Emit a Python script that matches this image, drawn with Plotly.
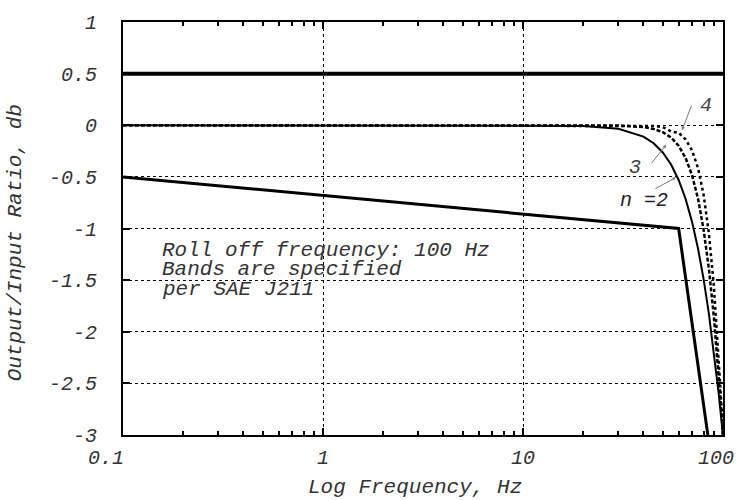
import math
import plotly.graph_objects as go

# Butterworth low-pass response (roll-off at 100 Hz), dB vs frequency
freq = [0.1, 1, 10, 20, 30, 40, 45, 50, 55, 60, 65, 70, 75, 80, 85, 90, 95, 98, 100]
gain_n2 = [0.0, 0.0, -0.0004, -0.0069, -0.0350, -0.1098, -0.1745, -0.2633, -0.3803,
           -0.5300, -0.7133, -0.9345, -1.1938, -1.4909, -1.8242, -2.1908, -2.5876,
           -2.8384, -3.0103]
gain_n3 = [0.0, 0.0, 0.0, -0.0003, -0.0032, -0.0178, -0.0359, -0.0673, -0.1186,
           -0.1981, -0.3158, -0.4830, -0.7114, -1.0111, -1.3898, -1.8510, -2.3932,
           -2.7550, -3.0103]
gain_n4 = [0.0, 0.0, 0.0, 0.0, -0.0003, -0.0029, -0.0073, -0.0169, -0.0601,
           -0.0723, -0.1362, -0.2435, -0.4144, -0.6736, -1.0465, -1.5548, -2.2100,
           -2.6736, -3.0103]

# SAE J211 tolerance bands
upper_freq = [0.1, 100]
upper_db = [0.5, 0.5]
lower_freq = [0.1, 60, 84]
lower_db = [-0.5, -1.0, -3.0]

x_tickvals = [0.1, 1, 10, 100]
x_ticktext = ["0.1", "1", "10", "100"]
x_minor = [0.2, 0.3, 0.4, 0.5, 0.6, 0.7, 0.8, 0.9,
           2, 3, 4, 5, 6, 7, 8, 9,
           20, 30, 40, 50, 60, 70, 80, 90]
y_tickvals = [1, 0.5, 0, -0.5, -1, -1.5, -2, -2.5, -3]
y_ticktext = ["1", "0.5", "0", "-0.5", "-1", "-1.5", "-2", "-2.5", "-3"]

note_lines = ["Roll off frequency: 100 Hz", "Bands are specified", "per SAE J211"]
note_y = [-1.21, -1.40, -1.59]

FONT = "Liberation Mono"


def ital(size, color="#222"):
    return dict(family=FONT, size=size, color=color, style="italic")


fig = go.Figure()
fig.add_trace(go.Scatter(x=upper_freq, y=upper_db, mode="lines",
                         line=dict(color="black", width=4)))
fig.add_trace(go.Scatter(x=lower_freq, y=lower_db, mode="lines",
                         line=dict(color="black", width=3)))
fig.add_trace(go.Scatter(x=freq, y=gain_n2, mode="lines",
                         line=dict(color="black", width=2)))
fig.add_trace(go.Scatter(x=freq, y=gain_n3, mode="lines",
                         line=dict(color="black", width=2.5, dash="4px,2px")))
fig.add_trace(go.Scatter(x=freq, y=gain_n4, mode="lines",
                         line=dict(color="black", width=2.5, dash="dot")))

axis_common = dict(
    showline=True, linecolor="black", linewidth=2, mirror="ticks",
    ticks="inside", ticklen=7, tickwidth=2, tickcolor="black",
    showgrid=True, gridcolor="black", gridwidth=1, griddash="dot",
    zeroline=False, tickfont=ital(20, "#333"),
)

# x tick labels are placed as annotations so the end labels stay inside the page
fig.update_xaxes(type="log", range=[-1, 2], tickvals=x_tickvals,
                 ticktext=[""] * len(x_tickvals),
                 minor=dict(tickvals=x_minor, ticks="inside", ticklen=4,
                            tickwidth=1.5, tickcolor="black", showgrid=False),
                 **axis_common)
fig.update_yaxes(range=[-3, 1], tickvals=y_tickvals, ticktext=y_ticktext,
                 ticklabelstandoff=20, **axis_common)

annotations = [
    dict(xref="paper", yref="paper", x=0.486, y=-0.126, text="Log Frequency, Hz",
         xanchor="center", yanchor="middle", showarrow=False, font=ital(21, "#333")),
    dict(xref="paper", yref="paper", x=-0.18, y=0.464, text="Output/Input Ratio, db",
         xanchor="center", yanchor="middle", textangle=-90, showarrow=False,
         font=ital(21, "#333")),
]

# x tick labels
x_shift = [-17, 0, 0, 13]
x_anchor = ["center", "center", "center", "right"]
for v, t, s, a in zip(x_tickvals, x_ticktext, x_shift, x_anchor):
    annotations.append(dict(xref="x", yref="paper", x=math.log10(v),
                            y=-0.057, text=t, xanchor=a, yanchor="middle",
                            xshift=s, showarrow=False, font=ital(20, "#333")))

# note text
for t, yv in zip(note_lines, note_y):
    annotations.append(dict(x=-0.815, y=yv, text=t, xanchor="left", yanchor="middle",
                            showarrow=False, font=ital(21, "#333")))

# curve labels and leader arrows
annotations += [
    dict(x=1.915, y=0.19, text="4", xanchor="center", yanchor="middle",
         showarrow=False, font=ital(20, "#444")),
    dict(x=1.561, y=-0.41, text="3", xanchor="center", yanchor="middle",
         showarrow=False, font=ital(20, "#444")),
    dict(x=1.606, y=-0.724, text="n =2", xanchor="center", yanchor="middle",
         showarrow=False, font=ital(20, "#222")),
    dict(x=1.795, y=-0.048, text="", showarrow=True, ax=10, ay=-26,
         arrowhead=2, arrowsize=0.7, arrowwidth=1, arrowcolor="#777"),
    dict(x=1.716, y=-0.19, text="", showarrow=True, ax=-16, ay=20,
         arrowhead=2, arrowsize=0.7, arrowwidth=1, arrowcolor="#777"),
    dict(x=1.765, y=-0.505, text="", showarrow=True, ax=-22, ay=12,
         arrowhead=2, arrowsize=0.7, arrowwidth=1, arrowcolor="#777"),
]

fig.update_layout(
    width=737, height=500,
    margin=dict(l=123, r=13, t=15, b=65),
    paper_bgcolor="white", plot_bgcolor="white",
    showlegend=False, annotations=annotations,
)

fig.write_html("out.html")
